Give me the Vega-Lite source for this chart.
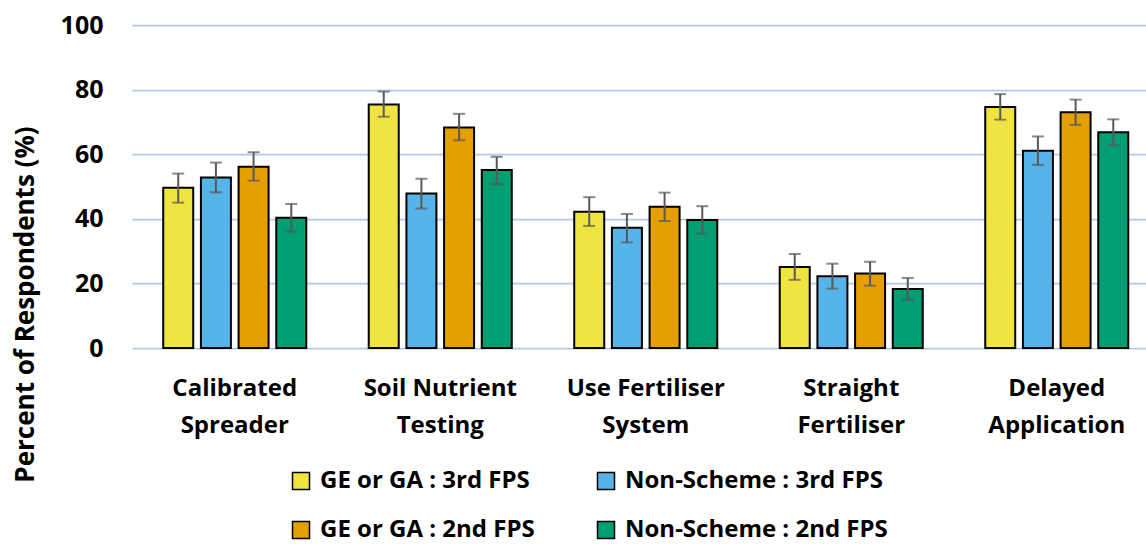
{
  "$schema": "https://vega.github.io/schema/vega-lite/v6.json",
  "width": 1014,
  "height": 323,
  "autosize": {"type": "none"},
  "padding": {"left": 132, "top": 25, "right": 0, "bottom": 196},
  "config": {"view": {"stroke": null}, "font": "Open Sans"},
  "data": {
    "values": [
      {"practice": "Calibrated|Spreader", "group": "GE or GA : 3rd FPS", "value": 49.6, "lo": 45.0, "hi": 54.0},
      {"practice": "Calibrated|Spreader", "group": "Non-Scheme : 3rd FPS", "value": 52.8, "lo": 48.2, "hi": 57.4},
      {"practice": "Calibrated|Spreader", "group": "GE or GA : 2nd FPS", "value": 56.1, "lo": 51.8, "hi": 60.6},
      {"practice": "Calibrated|Spreader", "group": "Non-Scheme : 2nd FPS", "value": 40.3, "lo": 36.1, "hi": 44.6},
      {"practice": "Soil Nutrient|Testing", "group": "GE or GA : 3rd FPS", "value": 75.4, "lo": 71.6, "hi": 79.4},
      {"practice": "Soil Nutrient|Testing", "group": "Non-Scheme : 3rd FPS", "value": 47.8, "lo": 43.2, "hi": 52.4},
      {"practice": "Soil Nutrient|Testing", "group": "GE or GA : 2nd FPS", "value": 68.3, "lo": 64.3, "hi": 72.5},
      {"practice": "Soil Nutrient|Testing", "group": "Non-Scheme : 2nd FPS", "value": 55.1, "lo": 50.7, "hi": 59.2},
      {"practice": "Use Fertiliser|System", "group": "GE or GA : 3rd FPS", "value": 42.2, "lo": 37.8, "hi": 46.7},
      {"practice": "Use Fertiliser|System", "group": "Non-Scheme : 3rd FPS", "value": 37.2, "lo": 32.7, "hi": 41.5},
      {"practice": "Use Fertiliser|System", "group": "GE or GA : 2nd FPS", "value": 43.7, "lo": 39.3, "hi": 48.1},
      {"practice": "Use Fertiliser|System", "group": "Non-Scheme : 2nd FPS", "value": 39.6, "lo": 35.4, "hi": 43.9},
      {"practice": "Straight|Fertiliser", "group": "GE or GA : 3rd FPS", "value": 25.1, "lo": 21.1, "hi": 29.1},
      {"practice": "Straight|Fertiliser", "group": "Non-Scheme : 3rd FPS", "value": 22.2, "lo": 18.4, "hi": 26.1},
      {"practice": "Straight|Fertiliser", "group": "GE or GA : 2nd FPS", "value": 23.1, "lo": 19.3, "hi": 26.7},
      {"practice": "Straight|Fertiliser", "group": "Non-Scheme : 2nd FPS", "value": 18.3, "lo": 15.0, "hi": 21.7},
      {"practice": "Delayed|Application", "group": "GE or GA : 3rd FPS", "value": 74.6, "lo": 70.7, "hi": 78.6},
      {"practice": "Delayed|Application", "group": "Non-Scheme : 3rd FPS", "value": 61.1, "lo": 56.7, "hi": 65.5},
      {"practice": "Delayed|Application", "group": "GE or GA : 2nd FPS", "value": 73.0, "lo": 69.1, "hi": 76.9},
      {"practice": "Delayed|Application", "group": "Non-Scheme : 2nd FPS", "value": 66.8, "lo": 62.8, "hi": 70.8}
    ]
  },
  "encoding": {
    "x": {
      "field": "practice",
      "type": "nominal",
      "sort": null,
      "scale": {"range": [0, 1027.5], "paddingInner": 0.304, "paddingOuter": 0.152},
      "axis": {
        "title": null,
        "domain": false,
        "ticks": false,
        "labelAngle": 0,
        "labelFontSize": 24,
        "labelFontWeight": "bold",
        "labelColor": "black",
        "labelExpr": "split(datum.label, '|')",
        "labelLineHeight": 37,
        "labelBaseline": "alphabetic",
        "labelPadding": 47,
        "labelOverlap": false,
        "labelLimit": 300,
        "labelBound": false
      }
    },
    "xOffset": {
      "field": "group",
      "type": "nominal",
      "sort": ["GE or GA : 3rd FPS", "Non-Scheme : 3rd FPS", "GE or GA : 2nd FPS", "Non-Scheme : 2nd FPS"],
      "scale": {"paddingInner": 0.204, "paddingOuter": 0}
    }
  },
  "layer": [
    {
      "mark": {"type": "bar", "stroke": "black", "strokeWidth": 2},
      "encoding": {
        "y": {
          "field": "value",
          "type": "quantitative",
          "scale": {"domain": [0, 100]},
          "axis": {
            "values": [0, 20, 40, 60, 80, 100],
            "domain": false,
            "ticks": false,
            "labelFontSize": 25,
            "labelFontWeight": "bold",
            "labelColor": "black",
            "labelPadding": 29,
            "gridColor": "#B4C7E7",
            "gridWidth": 1.75,
            "title": "Percent of Respondents (%)",
            "titleFontSize": 26,
            "titleFontWeight": "bold",
            "titleColor": "black",
            "titleAngle": -90,
            "titleX": -99,
            "titleY": 279,
            "titleAlign": "center",
            "titleBaseline": "alphabetic"
          }
        },
        "color": {
          "field": "group",
          "type": "nominal",
          "scale": {
            "domain": ["GE or GA : 3rd FPS", "Non-Scheme : 3rd FPS", "GE or GA : 2nd FPS", "Non-Scheme : 2nd FPS"],
            "range": ["#F0E442", "#56B4E9", "#E69F00", "#009E73"]
          },
          "legend": {
            "orient": "none",
            "legendX": 157,
            "legendY": 444,
            "columns": 2,
            "direction": "horizontal",
            "title": null,
            "symbolType": "square",
            "symbolSize": 289,
            "symbolStrokeColor": "black",
            "symbolStrokeWidth": 1.5,
            "symbolOpacity": 1,
            "labelFontSize": 24,
            "labelFontWeight": "bold",
            "labelColor": "black",
            "labelOffset": 7,
            "columnPadding": 59,
            "rowPadding": 25,
            "labelLimit": 400,
            "padding": 0
          }
        }
      }
    },
    {
      "mark": {"type": "rule", "color": "#595959", "strokeWidth": 2},
      "encoding": {
        "y": {"field": "lo", "type": "quantitative"},
        "y2": {"field": "hi"}
      }
    },
    {
      "mark": {"type": "tick", "color": "#595959", "thickness": 2, "size": 12, "orient": "horizontal"},
      "encoding": {"y": {"field": "lo", "type": "quantitative"}}
    },
    {
      "mark": {"type": "tick", "color": "#595959", "thickness": 2, "size": 12, "orient": "horizontal"},
      "encoding": {"y": {"field": "hi", "type": "quantitative"}}
    }
  ]
}
